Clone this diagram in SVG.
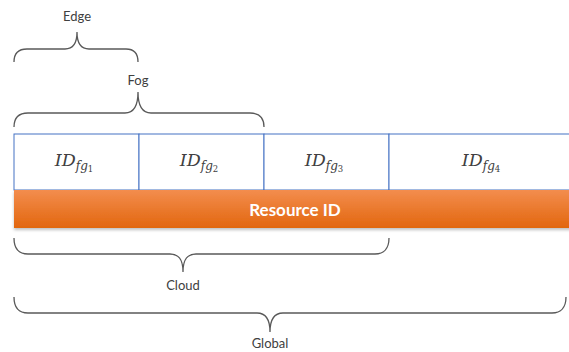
<svg xmlns="http://www.w3.org/2000/svg" width="569" height="352" viewBox="0 0 569 352">
<style>
.brace{fill:none;stroke:#595959;stroke-width:1.3}
.lbl{font-family:Lato,"Open Sans",sans-serif;font-size:13px;fill:#404040;text-anchor:middle}
.cell{fill:#fff;stroke:#4472C4;stroke-width:1}
.id{font-family:"DejaVu Serif","Liberation Serif",serif;font-style:italic;fill:#404040;text-anchor:middle;font-size:17.5px}
.sub{font-size:12px}
.sub2{font-size:8.5px;font-style:normal}
</style>
<defs>
<linearGradient id="og" x1="0" y1="0" x2="0" y2="1">
<stop offset="0" stop-color="#F38D4E"/>
<stop offset="1" stop-color="#E2660E"/>
</linearGradient>
<filter id="sh" x="-5%" y="-20%" width="110%" height="160%">
<feDropShadow dx="0" dy="2" stdDeviation="1.5" flood-color="#000" flood-opacity="0.25"/>
</filter>
</defs>
<g id="connectors">
<path class="brace" d="M14,62 C14,54 18,49 27,49 L65,49 C72,49 77,45 77,32 C77,45 82,49 89,49 L126,49 C134,49 138,54 138,62"/>
<path class="brace" d="M14,127 C14,118 18,113 28,113 L125,113 C133,113 138,108 138,92 C138,108 143,113 151,113 L250,113 C259,113 264,118 264,127"/>
<path class="brace" d="M14,238 C14,248 18,254 28,254 L170,254 C178,254 183,258 183,272 C183,258 188,254 196,254 L375,254 C384,254 389,248 389,238"/>
<path class="brace" d="M14,297 C14,307 18,313 28,313 L257,313 C265,313 270,318 270,332 C270,318 275,313 283,313 L552,313 C561,313 566,307 566,297"/>
</g>
<g id="edge"><text class="lbl" x="77" y="21">Edge</text></g>
<g id="fog"><text class="lbl" x="138" y="85">Fog</text></g>
<g id="cloud"><text class="lbl" x="183" y="290">Cloud</text></g>
<g id="global"><text class="lbl" x="270" y="348">Global</text></g>
<g id="cells">
<rect class="cell" x="14" y="134" width="125" height="56"/>
<rect class="cell" x="139" y="134" width="125" height="56"/>
<rect class="cell" x="264" y="134" width="125" height="56"/>
<rect class="cell" x="389" y="134" width="190" height="56"/>
</g>
<g id="id1"><text class="id" x="74" y="166">ID<tspan class="sub" dy="4">fg</tspan><tspan class="sub2" dy="2">1</tspan></text></g>
<g id="id2"><text class="id" x="199" y="166">ID<tspan class="sub" dy="4">fg</tspan><tspan class="sub2" dy="2">2</tspan></text></g>
<g id="id3"><text class="id" x="324" y="166">ID<tspan class="sub" dy="4">fg</tspan><tspan class="sub2" dy="2">3</tspan></text></g>
<g id="id4"><text class="id" x="481" y="166">ID<tspan class="sub" dy="4">fg</tspan><tspan class="sub2" dy="2">4</tspan></text></g>
<g id="resource">
<rect x="14" y="190" width="560" height="38" fill="url(#og)" filter="url(#sh)"/>
<text x="295" y="215.5" font-family="Lato,'Open Sans',sans-serif" font-weight="bold" font-size="17px" fill="#fff" text-anchor="middle">Resource ID</text>
</g>
</svg>
